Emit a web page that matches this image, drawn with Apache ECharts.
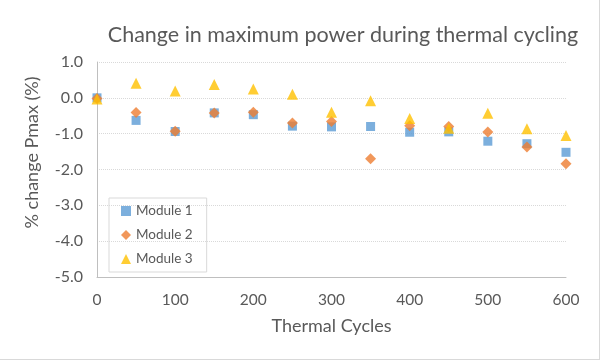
<!DOCTYPE html>
<html>
<head>
<meta charset="utf-8">
<script src="https://cdn.jsdelivr.net/npm/echarts@6/dist/echarts.min.js"></script>
<style>
html,body{margin:0;padding:0;background:#fff;}
#c{width:600px;height:360px;box-sizing:border-box;border-right:1px solid #d9d9d9;border-bottom:1px solid #d9d9d9;}
</style>
</head>
<body>
<div id="c"></div>
<script>
const cycles = [0, 50, 100, 150, 200, 250, 300, 350, 400, 450, 500, 550, 600];
const module1 = [0.0, -0.63, -0.94, -0.42, -0.47, -0.79, -0.81, -0.80, -0.96, -0.95, -1.21, -1.28, -1.52];
const module2 = [-0.02, -0.41, -0.93, -0.42, -0.40, -0.70, -0.66, -1.70, -0.78, -0.80, -0.95, -1.37, -1.84];
const module3 = [-0.03, 0.41, 0.19, 0.37, 0.25, 0.10, -0.40, -0.08, -0.58, -0.85, -0.43, -0.86, -1.05];
const seriesNames = ['Module 1', 'Module 2', 'Module 3'];
const yTicks = [-5, -4, -3, -2, -1, 0, 1];

const font = 'Lato, "Open Sans", sans-serif';
const textColor = '#595959';
const pair = vals => cycles.map((c, i) => [c, vals[i]]);

const chart = echarts.init(document.getElementById('c'), null, {renderer: 'canvas'});
chart.setOption({
  animation: false,
  backgroundColor: '#fff',
  title: {
    text: 'Change in maximum power during thermal cycling',
    left: 338, top: 19, textAlign: 'center',
    textStyle: {fontFamily: font, fontSize: 21.5, fontWeight: 'normal', color: textColor}
  },
  legend: {
    orient: 'vertical', left: 109, top: 198,
    data: seriesNames,
    itemWidth: 10, itemHeight: 10, itemGap: 10,
    padding: [6, 14, 6, 12],
    borderColor: '#d9d9d9', borderWidth: 1,
    textStyle: {fontFamily: font, fontSize: 13.5, color: textColor}
  },
  grid: {left: 97, right: 33, top: 62, bottom: 82},
  xAxis: {
    type: 'value', min: 0, max: 600, interval: 100,
    name: 'Thermal Cycles', nameLocation: 'middle', nameGap: 40,
    nameTextStyle: {fontFamily: font, fontSize: 18, color: textColor},
    axisLine: {show: true, onZero: false, lineStyle: {color: '#bfbfbf'}},
    axisTick: {show: false},
    axisLabel: {fontFamily: font, fontSize: 15.5, color: textColor, margin: 15},
    splitLine: {show: false}
  },
  yAxis: {
    type: 'value', min: yTicks[0], max: yTicks[yTicks.length - 1], interval: 1,
    name: '% change Pmax (%)', nameLocation: 'middle', nameGap: 56,
    nameTextStyle: {fontFamily: font, fontSize: 18, color: textColor, padding: [0, 0, 0, 34]},
    axisLine: {show: true, lineStyle: {color: '#bfbfbf'}},
    axisTick: {show: false},
    axisLabel: {fontFamily: font, fontSize: 16, color: textColor, margin: 14,
      formatter: v => v.toFixed(1)},
    splitLine: {show: true, lineStyle: {color: '#d9d9d9', type: 'dotted'}}
  },
  series: [
    {name: seriesNames[0], type: 'scatter', symbol: 'rect', symbolSize: 9,
     itemStyle: {color: '#5B9BD5'}, data: pair(module1)},
    {name: seriesNames[1], type: 'scatter', symbol: 'diamond', symbolSize: 11,
     itemStyle: {color: '#ED7D31'}, data: pair(module2)},
    {name: seriesNames[2], type: 'scatter', symbol: 'triangle', symbolSize: 11,
     itemStyle: {color: '#FFC000'}, data: pair(module3)}
  ]
});
</script>
</body>
</html>
